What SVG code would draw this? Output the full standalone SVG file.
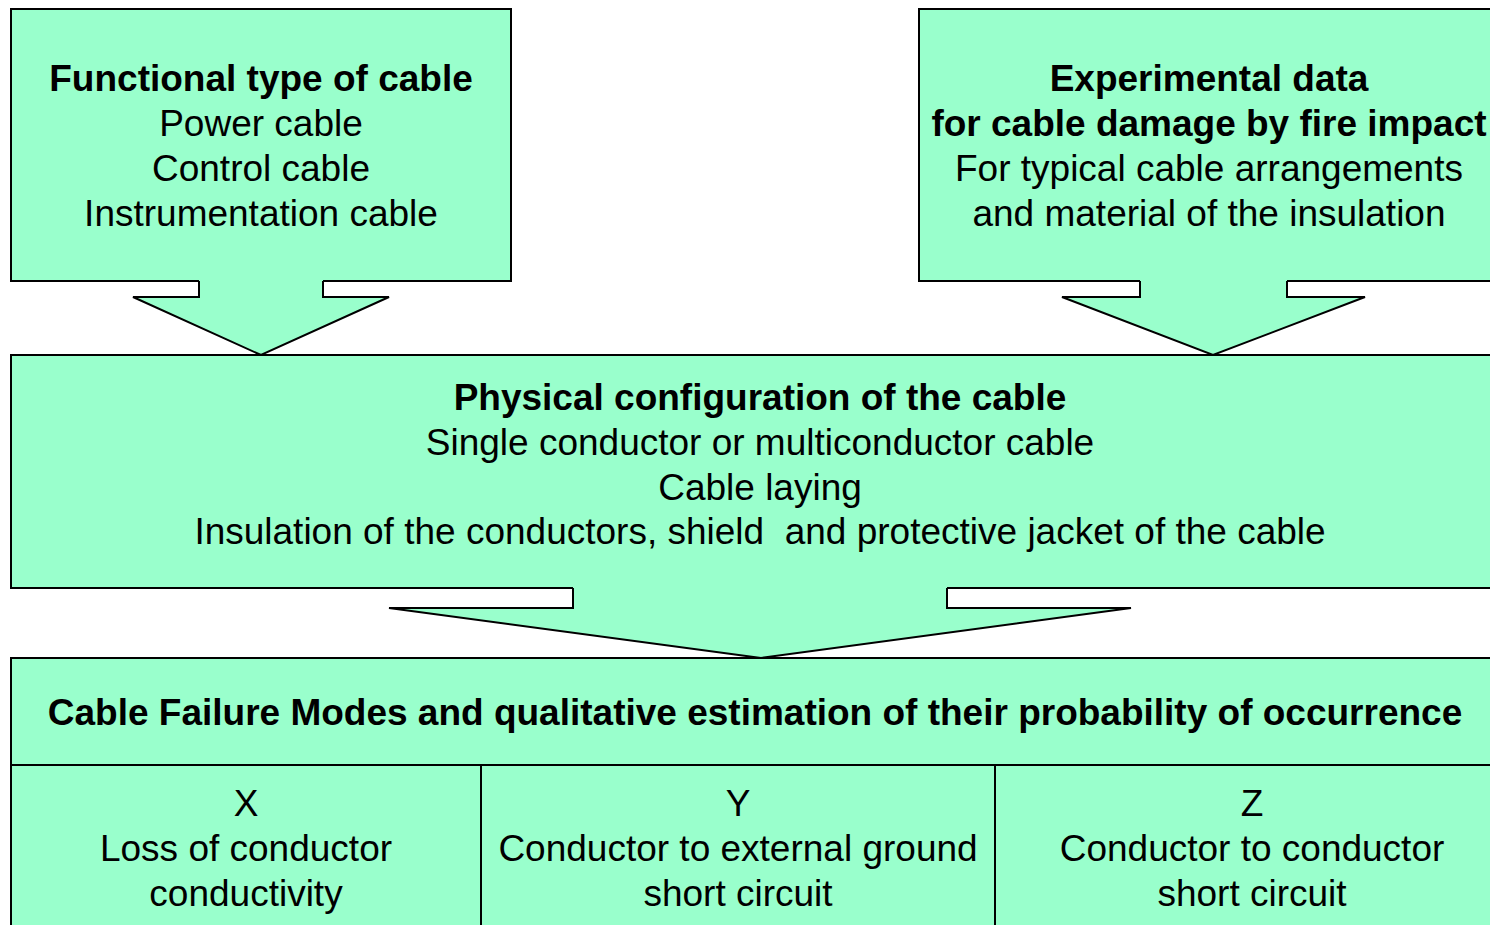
<svg xmlns="http://www.w3.org/2000/svg" width="1490" height="925" viewBox="0 0 1490 925">
<style>
.box{fill:#99FFCC;stroke:#000;stroke-width:2}
.af{fill:#99FFCC;stroke:none}
.ao{fill:none;stroke:#000;stroke-width:2;stroke-linejoin:miter}
text{font-family:"Liberation Sans",Arial,sans-serif;font-size:37px;fill:#000;text-anchor:middle}
.b{font-weight:bold}
</style>
<rect width="1490" height="925" fill="#fff"/>
<g id="node-functional">
<rect class="box" x="11" y="9" width="500" height="272"/>
<text x="261" y="91" class="b">Functional type of cable</text>
<text x="261" y="136">Power cable</text>
<text x="261" y="181">Control cable</text>
<text x="261" y="226">Instrumentation cable</text>
</g>
<g id="node-experimental">
<rect class="box" x="919" y="9" width="590" height="272"/>
<text x="1209" y="91" class="b">Experimental data</text>
<text x="1209" y="136" class="b">for cable damage by fire impact</text>
<text x="1209" y="181">For typical cable arrangements</text>
<text x="1209" y="226">and material of the insulation</text>
</g>
<g id="node-physical">
<rect class="box" x="11" y="355" width="1498" height="233"/>
<text x="760" y="410" class="b">Physical configuration of the cable</text>
<text x="760" y="455">Single conductor or multiconductor cable</text>
<text x="760" y="500">Cable laying</text>
<text x="760" y="544" xml:space="preserve">Insulation of the conductors, shield  and protective jacket of the cable</text>
</g>
<g id="node-failure">
<rect class="box" x="11" y="658" width="1498" height="107"/>
<text x="755" y="725" class="b">Cable Failure Modes and qualitative estimation of their probability of occurrence</text>
</g>
<g id="node-x">
<rect class="box" x="11" y="765" width="470" height="180"/>
<text x="246" y="816">X</text>
<text x="246" y="861">Loss of conductor</text>
<text x="246" y="906">conductivity</text>
</g>
<g id="node-y">
<rect class="box" x="481" y="765" width="514" height="180"/>
<text x="738" y="816">Y</text>
<text x="738" y="861">Conductor to external ground</text>
<text x="738" y="906">short circuit</text>
</g>
<g id="node-z">
<rect class="box" x="995" y="765" width="514" height="180"/>
<text x="1252" y="816">Z</text>
<text x="1252" y="861">Conductor to conductor</text>
<text x="1252" y="906">short circuit</text>
</g>
<g id="connectors">
<polygon class="af" points="199,279 199,297 133,297 261,355 389,297 323,297 323,279"/>
<polyline class="ao" points="199,281 199,297 133,297 261,355 389,297 323,297 323,281"/>
<polygon class="af" points="1140,279 1140,297 1062,297 1213,355 1365,297 1287,297 1287,279"/>
<polyline class="ao" points="1140,281 1140,297 1062,297 1213,355 1365,297 1287,297 1287,281"/>
<polygon class="af" points="573,586 573,608 389,608 761,658 1131,608 947,608 947,586"/>
<polyline class="ao" points="573,588 573,608 389,608 761,658 1131,608 947,608 947,588"/>
</g>
</svg>
